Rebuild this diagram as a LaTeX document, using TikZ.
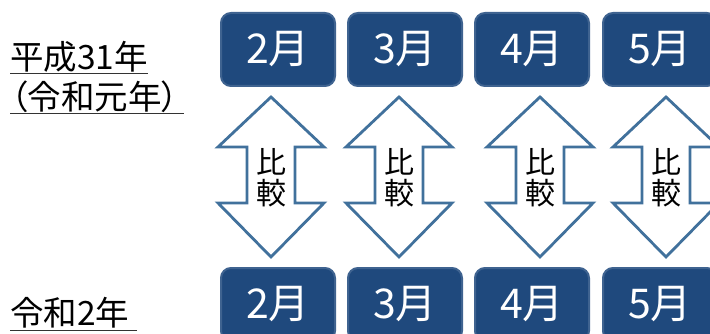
\documentclass[tikz,border=0pt]{standalone}
\usepackage{fontspec}
\newfontfamily\jp{Noto Sans CJK JP}
\newfontfamily\jpp[RawFeature=+palt]{Noto Sans CJK JP}
\definecolor{boxfill}{HTML}{1F497D}
\definecolor{boxedge}{HTML}{3F6390}
\definecolor{arrowedge}{HTML}{41719C}
\begin{document}
\begin{tikzpicture}[x=1pt,y=-1pt,
  month/.style={draw=boxedge,line width=2pt,fill=boxfill,rounded corners=10pt,
    minimum width=114pt,minimum height=73pt,inner sep=0pt,
    text=white,font=\jp\fontsize{41}{44}\selectfont},
  yearlab/.style={anchor=base west,inner sep=0pt,font=\jp\fontsize{33.5}{36}\selectfont},
  uline/.style={line width=1.5pt,black!80},
  cmp/.style={draw=arrowedge,line width=2.8pt,fill=white,line join=miter},
  cmplab/.style={align=center,inner sep=0pt,font=\jp\fontsize{30}{31}\selectfont}]
\useasboundingbox (0,0) rectangle (710,334);
% left labels
\node[yearlab] (y1) at (10,70) {平成31年};
\node[yearlab,font=\jpp\fontsize{33.5}{36}\selectfont] (y2) at (11,110) {（令和元年）};
\node[yearlab] (y3) at (10,325) {令和2年};
\draw[uline] (10,73.5) -- (148,73.5);
\draw[uline] (10,113.5) -- (184,113.5);
\draw[uline] (10,330.5) -- (137,330.5);
% top months
\node[month] (t2) at (278,49.5) {2月};
\node[month] (t3) at (405,49.5) {3月};
\node[month] (t4) at (532,49.5) {4月};
\node[month] (t5) at (660,49.5) {5月};
% bottom months
\node[month] (b2) at (278,304.5) {2月};
\node[month] (b3) at (405,304.5) {3月};
\node[month] (b4) at (532,304.5) {4月};
\node[month] (b5) at (660,304.5) {5月};
% double arrows
\foreach \cx/\n in {271/a2,399/a3,540/a4,666/a5}{
  \draw[cmp] (\cx,97) -- ++(53,50) -- ++(-29,0) -- ++(0,56) -- ++(29,0)
     -- (\cx,257) -- ++(-53,-54) -- ++(29,0) -- ++(0,-56) -- ++(-29,0) -- cycle;
  \node[cmplab] (\n) at (\cx,178) {比\\較};
}
\end{tikzpicture}
\end{document}
